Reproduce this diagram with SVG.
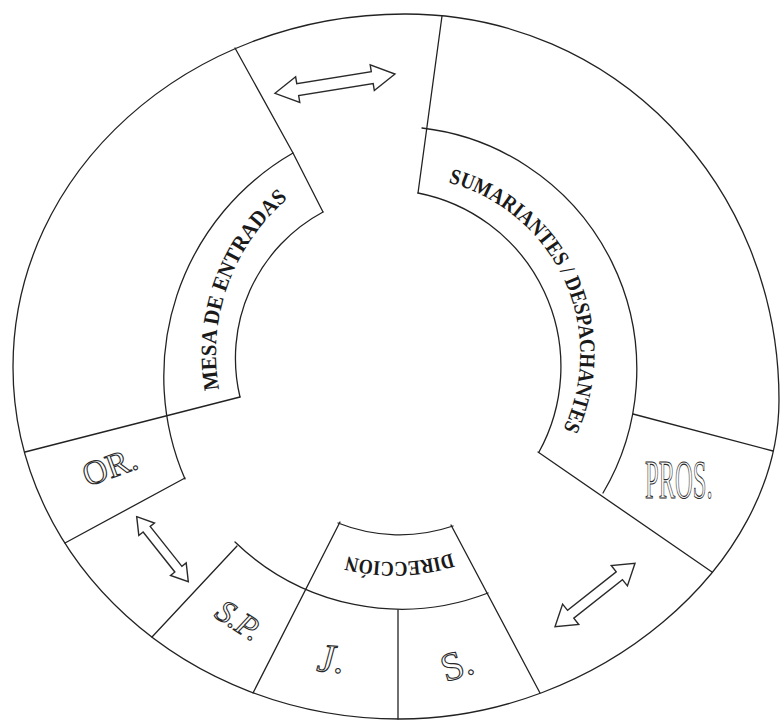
<svg xmlns="http://www.w3.org/2000/svg" width="780" height="720" viewBox="0 0 780 720">
<style>
.ln{fill:none;stroke:#222;stroke-width:1.3;stroke-linecap:round}
.band{font-family:"Liberation Serif","Times New Roman",serif;font-weight:bold;font-size:22px;fill:#1a1a1a}
.out{font-family:"Liberation Serif","Times New Roman",serif;fill:#fff;stroke:#2a2a2a;stroke-width:1.1}
.arr{fill:#fff;stroke:#2a2a2a;stroke-width:1.4;stroke-linejoin:miter}
</style>
<defs>
<path id="pMesa" d="M 219.1,389.4 A 204 204 0 0 1 288.9,197.7"/>
<path id="pSum" d="M 448.4,182.7 A 177 177 0 0 1 563.2,429.4"/>
<path id="pDir" d="M 451.7,553.2 A 193 193 0 0 1 347.0,556.2"/>
</defs>
<rect width="780" height="720" fill="#fff"/>
<g id="frame" class="ln">
<path d="M 13,367 C 13,172 188,14 405,14 C 614,14 779,184 779,400 C 779,566 597,719 400,719 C 186,719 13,561 13,367 Z"/>
</g>
<g id="mesa">
<path class="ln" d="M 235,48 L 293,153 L 323,212"/>
<path class="ln" d="M 293,153 A 258 258 0 0 0 185,479"/>
<path class="ln" d="M 323,212 A 166 166 0 0 0 240,397"/>
<path class="ln" d="M 25,452 L 240,397"/>
<text class="band"><textPath href="#pMesa" textLength="212" lengthAdjust="spacingAndGlyphs">MESA DE ENTRADAS</textPath></text>
</g>
<g id="or">
<path class="ln" d="M 65,543 L 185,478"/>
<text class="out" font-size="34" text-anchor="middle" transform="translate(110,467) rotate(-20)" y="11">OR.</text>
</g>
<g id="sp">
<path class="ln" d="M 152,637 L 237,546"/>
<path class="ln" d="M 235,542 A 240 240 0 0 0 488,593"/>
<text class="out" font-size="32" font-style="italic" text-anchor="middle" transform="translate(239,620) rotate(33)" y="11">S.P.</text>
</g>
<g id="j">
<path class="ln" d="M 253,693 L 340,522"/>
<text class="out" font-size="40" font-style="italic" text-anchor="middle" transform="translate(331,659) rotate(5)" y="13">J.</text>
</g>
<g id="s">
<path class="ln" d="M 398,610 L 398,719"/>
<path class="ln" d="M 451,525 L 540,693"/>
<text class="out" font-size="40" text-anchor="middle" transform="translate(457,665) rotate(-18)" y="13">S.</text>
</g>
<g id="direccion">
<path class="ln" d="M 338,523 A 166 166 0 0 0 453,526"/>
<text class="band" style="font-size:21px"><textPath href="#pDir" textLength="106" lengthAdjust="spacingAndGlyphs">DIRECCIÓN</textPath></text>
</g>
<g id="sumariantes">
<path class="ln" d="M 442,16 L 418,193"/>
<path class="ln" d="M 422,128 A 243 243 0 0 1 603,493"/>
<path class="ln" d="M 418,193 A 177 177 0 0 1 539,452"/>
<path class="ln" d="M 538,452 L 712,572"/>
<text class="band"><textPath href="#pSum" textLength="310" lengthAdjust="spacingAndGlyphs">SUMARIANTES / DESPACHANTES</textPath></text>
</g>
<g id="pros">
<path class="ln" d="M 633,414 L 773,451"/>
<text class="out" font-size="54" stroke-width="1.6" transform="translate(645,498) scale(0.455,1)">PROS.</text>
</g>
<g id="connectors">
<polygon class="arr" transform="translate(275,93.3) rotate(-9.14)" points="0,0 23,-13 23,-6 98.5,-6 98.5,-13 121.5,0 98.5,13 98.5,6 23,6 23,13"/>
<polygon class="arr" transform="translate(136.7,516.7) rotate(51.55)" points="0,0 16,-10 16,-4.5 67,-4.5 67,-10 83,0 67,10 67,4.5 16,4.5 16,10"/>
<polygon class="arr" transform="translate(555,626.7) rotate(-38.4)" points="0,0 20,-13 20,-5 82.1,-5 82.1,-13 102.1,0 82.1,13 82.1,5 20,5 20,13"/>
</g>
</svg>
